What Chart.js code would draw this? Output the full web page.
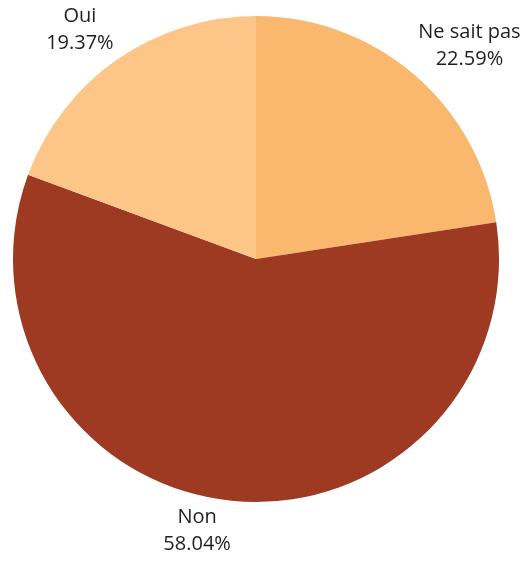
<!DOCTYPE html>
<html>
<head>
<meta charset="utf-8">
<script src="https://cdn.jsdelivr.net/npm/chart.js@4/dist/chart.umd.min.js"></script>
<style>
  html, body { margin: 0; padding: 0; background: #ffffff; }
  canvas { display: block; }
</style>
</head>
<body>
<canvas id="chart" width="524" height="561"></canvas>
<script>
// Réponses (parts en %)
const categories = ["Ne sait pas", "Non", "Oui"];
const shares = [22.59, 58.04, 19.37];
const colors = ["#F9B86D", "#9E3A21", "#FDC689"];

// labels placed just outside the slice, corner of the text box touching the mid-angle point
const outsideLabels = {
    id: "outsideLabels",
    afterDatasetsDraw(chart) {
        const ctx = chart.ctx;
        const meta = chart.getDatasetMeta(0);
        const lineH = 27;
        const half = 11;
        ctx.save();
        ctx.font = "20px 'Open Sans'";
        ctx.fillStyle = "#1f1f1f";
        ctx.textBaseline = "middle";
        meta.data.forEach((arc, i) => {
            const mid = (arc.startAngle + arc.endAngle) / 2;
            const r = arc.outerRadius + 6;
            const ax = arc.x + Math.cos(mid) * r;
            const ay = arc.y + Math.sin(mid) * r;
            const lines = [categories[i], shares[i].toFixed(2) + "%"];
            const w = Math.max(...lines.map(t => ctx.measureText(t).width));
            const left = Math.cos(mid) >= 0 ? ax : ax - w;
            let firstY;
            if (Math.sin(mid) < 0) {
                firstY = ay - half - lineH * (lines.length - 1);
            } else {
                firstY = ay + half;
            }
            ctx.textAlign = "center";
            lines.forEach((t, j) => {
                ctx.fillText(t, left + w / 2, firstY + j * lineH);
            });
        });
        ctx.restore();
    }
};

new Chart(document.getElementById("chart").getContext("2d"), {
    type: "pie",
    data: {
        labels: categories,
        datasets: [{
            data: shares,
            backgroundColor: colors,
            borderWidth: 0
        }]
    },
    options: {
        responsive: false,
        animation: false,
        layout: { padding: { left: 13, right: 25, top: 16, bottom: 59 } },
        plugins: {
            legend: { display: false },
            tooltip: { enabled: false }
        }
    },
    plugins: [outsideLabels]
});
</script>
</body>
</html>
